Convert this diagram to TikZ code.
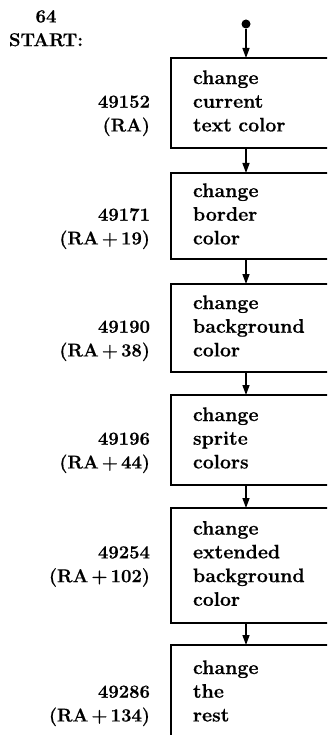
\documentclass[tikz,border=0pt]{standalone}
\usepackage{fontspec}
\setmainfont{Latin Modern Roman}[BoldFeatures={FakeBold=0.6}]
\usetikzlibrary{arrows.meta}
\begin{document}
\begin{tikzpicture}[x=1pt,y=-1pt,
  txt/.style={font=\fontsize{18.5}{23.7}\selectfont\bfseries},
  boxtxt/.style={font=\fontsize{19.6}{23.7}\selectfont\bfseries},
  stepbox/.style={boxtxt, draw, line width=1.6pt, outer sep=0pt, anchor=north west,
    minimum width=190pt, text width=150pt, align=left, inner xsep=22pt, inner ysep=0pt},
  addr/.style={txt, anchor=east, align=right, inner sep=0pt, outer sep=0pt},
  flow/.style={line width=1.4pt, -{Triangle[length=10pt,width=7pt]}}]
\useasboundingbox (0,0) rectangle (327,735);
\clip (0,0) rectangle (327,735);

% entry point
\node[txt, align=center, inner sep=0pt] (title) at (46,29.5) {\strut 64\\\strut START:};
\node[circle, fill, inner sep=0pt, minimum size=9pt] (start) at (246,24) {};

% routine steps
\node[stepbox, minimum height=90pt]  (b1) at (171,58)  {\strut change\\\strut current\\\strut text color};
\node[stepbox, minimum height=86pt]  (b2) at (171,173) {\strut change\\\strut border\\\strut color};
\node[stepbox, minimum height=88pt]  (b3) at (171,284) {\strut change\\\strut background\\\strut color};
\node[stepbox, minimum height=90pt]  (b4) at (171,395) {\strut change\\\strut sprite\\\strut colors};
\node[stepbox, minimum height=115pt] (b5) at (171,508) {\strut change\\\strut extended\\\strut background\\\strut color};
\node[stepbox, minimum height=96pt]  (b6) at (171,645) {\strut change\\\strut the\\\strut rest};

% addresses
\node[addr] (a1) at ([xshift=-21pt,yshift=-11.85pt]b1.west) {\strut 49152\\\strut (RA)};
\node[addr] (a2) at ([xshift=-21pt,yshift=-11.85pt]b2.west) {\strut 49171\\\strut (RA\,+\,19)};
\node[addr] (a3) at ([xshift=-21pt,yshift=-11.85pt]b3.west) {\strut 49190\\\strut (RA\,+\,38)};
\node[addr] (a4) at ([xshift=-21pt,yshift=-11.85pt]b4.west) {\strut 49196\\\strut (RA\,+\,44)};
\node[addr] (a5) at ([xshift=-21pt]b5.west) {\strut 49254\\\strut (RA\,+\,102)};
\node[addr] (a6) at ([xshift=-21pt,yshift=-11.85pt]b6.west) {\strut 49286\\\strut (RA\,+\,134)};

% flow
\draw[flow] (start) -- (b1.north -| start);
\draw[flow] (b1.south -| start) -- (b2.north -| start);
\draw[flow] (b2.south -| start) -- (b3.north -| start);
\draw[flow] (b3.south -| start) -- (b4.north -| start);
\draw[flow] (b4.south -| start) -- (b5.north -| start);
\draw[flow] (b5.south -| start) -- (b6.north -| start);
\end{tikzpicture}
\end{document}
